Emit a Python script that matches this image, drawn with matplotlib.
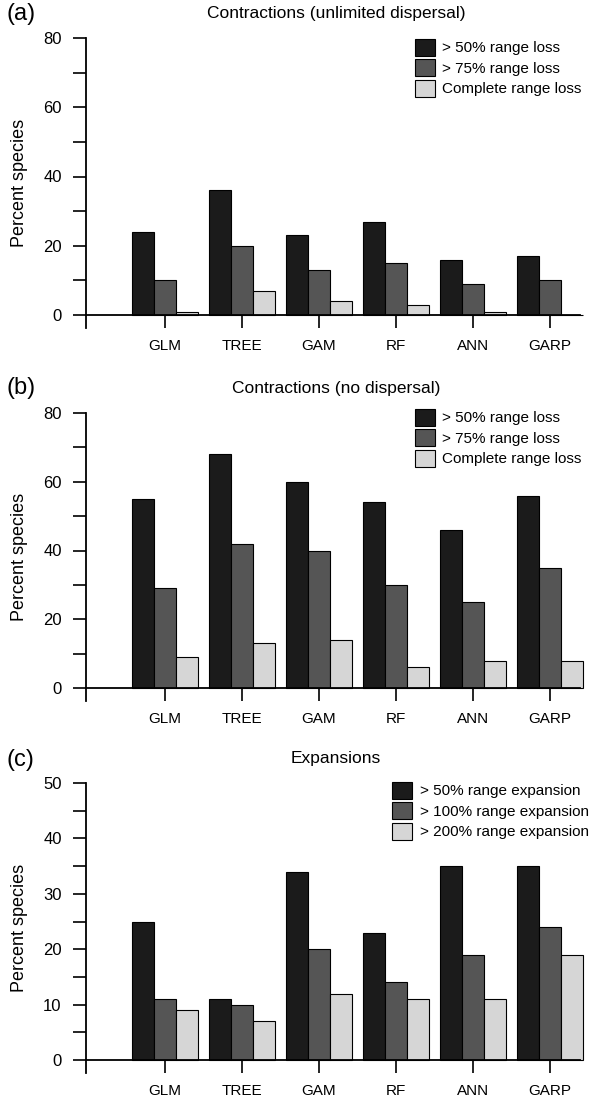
import matplotlib
matplotlib.use("Agg")
import matplotlib.pyplot as plt
from matplotlib.ticker import MultipleLocator
import numpy as np

plt.rcParams['font.family'] = ['Liberation Sans', 'DejaVu Sans']

models = ["GLM", "TREE", "GAM", "RF", "ANN", "GARP"]

# Panel (a): contractions, unlimited dispersal
a_loss50 = [24, 36, 23, 27, 16, 17]
a_loss75 = [10, 20, 13, 15, 9, 10]
a_lossall = [1, 7, 4, 3, 1, 0]

# Panel (b): contractions, no dispersal
b_loss50 = [55, 68, 60, 54, 46, 56]
b_loss75 = [29, 42, 40, 30, 25, 35]
b_lossall = [9, 13, 14, 6, 8, 8]

# Panel (c): expansions
c_exp50 = [25, 11, 34, 23, 35, 35]
c_exp100 = [11, 10, 20, 14, 19, 24]
c_exp200 = [9, 7, 12, 11, 11, 19]

loss_labels = ["> 50% range loss", "> 75% range loss", "Complete range loss"]
exp_labels = ["> 50% range expansion", "> 100% range expansion", "> 200% range expansion"]

titles = ["Contractions (unlimited dispersal)", "Contractions (no dispersal)", "Expansions"]
tags = ["(a)", "(b)", "(c)"]

colors = ["#1b1b1b", "#555555", "#d6d6d6"]

W, H = 594, 1099
fig = plt.figure(figsize=(W / 100, H / 100), dpi=100)

left = 86 / W
width = (580 - 86) / W

panels = [
    dict(series=[a_loss50, a_loss75, a_lossall], labels=loss_labels, top=38, zero=315, bottom=328,
         ymax=80, major=20, minor=10, leg=(415, 39), tagy=3, titley=6),
    dict(series=[b_loss50, b_loss75, b_lossall], labels=loss_labels, top=413, zero=688, bottom=701,
         ymax=80, major=20, minor=10, leg=(415, 409), tagy=377, titley=381),
    dict(series=[c_exp50, c_exp100, c_exp200], labels=exp_labels, top=783, zero=1060, bottom=1073,
         ymax=50, major=10, minor=5, leg=(392, 782), tagy=749, titley=751),
]

x = np.arange(1, len(models) + 1)
bw = 0.285
offsets = [-bw, 0, bw]

for i, p in enumerate(panels):
    ax = fig.add_axes([left, 1 - p['bottom'] / H, width, (p['bottom'] - p['top']) / H])
    pxunit = (p['zero'] - p['top']) / p['ymax']
    ymin = -(p['bottom'] - p['zero']) / pxunit
    handles = []
    for s, off, c, lab in zip(p['series'], offsets, colors, p['labels']):
        h = ax.bar(x + off, s, bw, color=c, edgecolor="black", linewidth=0.8, label=lab,
                   zorder=2, clip_on=False)
        handles.append(h)
    ax.set_xlim(-0.026, 6.39)
    ax.set_ylim(ymin, p['ymax'])
    for sp in ['top', 'right']:
        ax.spines[sp].set_visible(False)
    ax.spines['bottom'].set_position(('data', 0))
    ax.spines['bottom'].set_linewidth(1.3)
    ax.spines['left'].set_linewidth(1.3)
    ax.set_xticks(x)
    ax.set_xticklabels(models, fontsize=11)
    ax.yaxis.set_major_locator(MultipleLocator(p['major']))
    ax.yaxis.set_minor_locator(MultipleLocator(p['minor']))
    ax.set_yticks(np.arange(0, p['ymax'] + 1, p['major']))
    ax.tick_params(axis='x', direction='out', length=9.5, width=1.2, pad=8)
    ax.tick_params(axis='y', which='both', direction='out', length=9.5, width=1.2, pad=8, labelsize=12)
    ax.tick_params(axis='y', which='minor', labelleft=False)
    # title
    fig.text((86 + 580) / 2 / W + 0.005, 1 - p['titley'] / H, titles[i], ha='center', va='top', fontsize=12.5)
    fig.text(7 / W, 1 - p['tagy'] / H, tags[i], ha='left', va='top', fontsize=17)
    fig.text(20 / W, 1 - (p['top'] + p['bottom']) / 2 / H, "Percent species", rotation=90,
             ha='center', va='center', fontsize=13)
    lx, ly = p['leg']
    ax.legend(handles=handles, labels=p['labels'], loc='upper left',
              bbox_to_anchor=(lx / W, 1 - ly / H), bbox_transform=fig.transFigure,
              frameon=False, fontsize=11, handlelength=1.3, handleheight=1.3,
              handletextpad=0.5, labelspacing=0.25, borderpad=0, borderaxespad=0)

fig.savefig("out.png", dpi=100)
